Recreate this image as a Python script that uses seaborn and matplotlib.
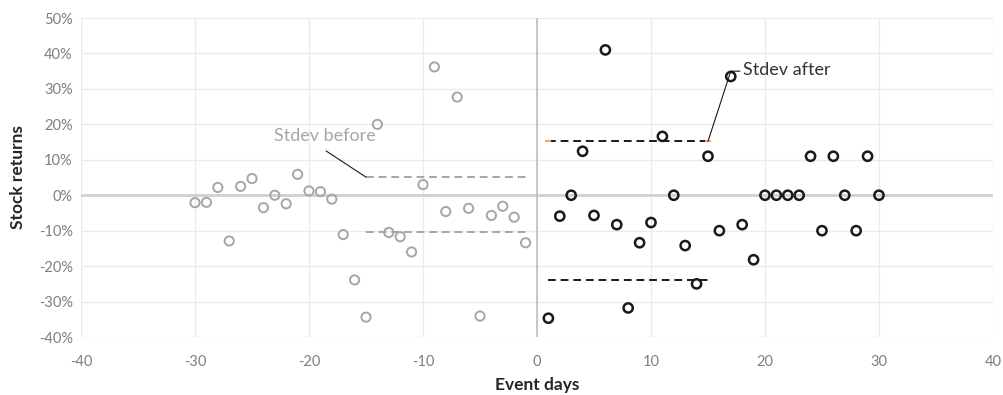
import matplotlib
matplotlib.use("Agg")
import matplotlib.pyplot as plt
import seaborn as sns
import numpy as np
import pandas as pd

# data
days_before = list(range(-30, 0))
ret_before = [-2.1, -2.0, 2.2, -12.9, 2.5, 4.7, -3.5, 0.0, -2.4, 5.9,
              1.2, 1.0, -1.1, -11.1, -23.9, -34.4, 20.0, -10.5, -11.7, -16.0,
              3.0, 36.2, -4.6, 27.7, -3.7, -34.1, -5.7, -3.1, -6.2, -13.4]
days_after = list(range(1, 31))
ret_after = [-34.7, -5.9, 0.0, 12.4, -5.7, 41.0, -8.3, -31.8, -13.4, -7.7,
             16.6, 0.0, -14.2, -25.0, 11.0, -10.0, 33.5, -8.3, -18.2, 0.0,
             0.0, 0.0, 0.0, 11.0, -10.0, 11.0, 0.0, -10.0, 11.0, 0.0]

# stdev band levels (%)
band_before = [5.1, -10.5]
band_before_x = [-15, -1]
band_after = [15.2, -23.9]
band_after_x = [1, 15]

x_ticks = list(range(-40, 41, 10))
y_ticks = list(range(-40, 51, 10))

df_b = pd.DataFrame({"day": days_before, "ret": ret_before})
df_a = pd.DataFrame({"day": days_after, "ret": ret_after})

sns.set_style("white")
plt.rcParams["font.family"] = ["Lato", "DejaVu Sans"]
plt.rcParams["axes.unicode_minus"] = False

gray = "#A6A6A6"
dark = "#1A1A1A"

fig = plt.figure(figsize=(10.04, 3.95), dpi=100)
ax = fig.add_axes([0.0807, 0.1468, 0.9083, 0.8076])

ax.set_xlim(-40, 40)
ax.set_ylim(-40, 50)
ax.set_xticks(x_ticks)
ax.set_yticks(y_ticks)
ax.set_yticklabels([f"{t}%" for t in y_ticks])
ax.grid(True, color="#EBEBEB", linewidth=1.0, zorder=0)
ax.set_axisbelow(True)
for s in ax.spines.values():
    s.set_visible(False)
ax.tick_params(length=0, labelsize=10.5, labelcolor="#7F7F7F")
ax.tick_params(axis="x", pad=13)
ax.tick_params(axis="y", pad=6)

ax.axhline(0, color="#D0D0D0", linewidth=2.0, zorder=1)
ax.axvline(0, color="#BFBFBF", linewidth=1.2, zorder=1)

# stdev lines
for lv in band_before:
    ax.plot(band_before_x, [lv, lv], color=gray, linestyle=(0, (4, 2.5)), linewidth=1.4, zorder=2)
for lv in band_after:
    ax.plot(band_after_x, [lv, lv], color=dark, linestyle=(0, (4, 2.5)), linewidth=1.4, zorder=2)
ax.plot(band_after_x, [band_after[0]] * 2, linestyle="none", marker="_",
        markersize=4, color="#F4A582", markeredgewidth=1.5, zorder=3)

sns.scatterplot(data=df_b, x="day", y="ret", ax=ax, marker="o", s=44,
                fc="none", ec=gray, linewidth=1.4, zorder=4)
sns.scatterplot(data=df_a, x="day", y="ret", ax=ax, marker="o", s=44,
                fc="none", ec=dark, linewidth=1.8, zorder=4)

# annotations
ax.plot([-18.5, -15], [12.5, band_before[0]], color=dark, linewidth=0.8, zorder=3)
ax.text(-18.6, 16.6, "Stdev before", color=gray, fontsize=13, ha="center", va="center")
ax.plot([15, 17.0, 17.8], [band_after[0], 35.0, 35.0], color=dark, linewidth=0.8, zorder=3)
ax.text(18.1, 35.3, "Stdev after", color="#333333", fontsize=13, ha="left", va="center")

ax.set_xlabel("Event days", fontsize=12.5, fontweight="bold", color="#262626", labelpad=6)
ax.set_ylabel("Stock returns", fontsize=12.5, fontweight="bold", color="#262626", labelpad=9)

fig.savefig("out.png", dpi=100)
